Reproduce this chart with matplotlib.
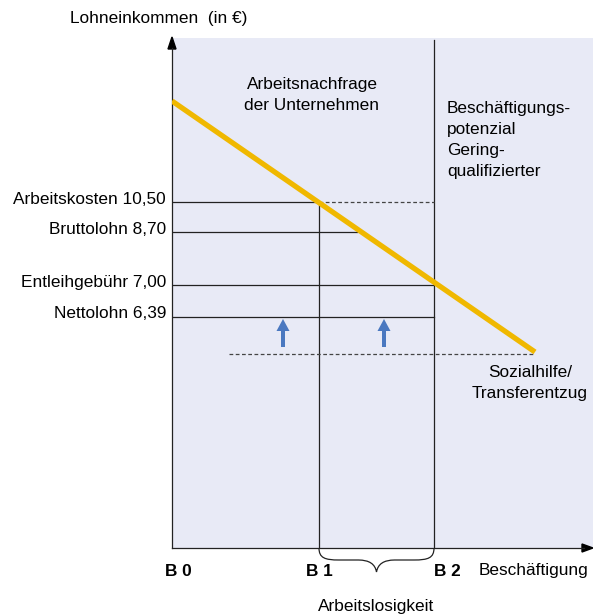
import matplotlib
matplotlib.use("Agg")
import matplotlib.pyplot as plt
from matplotlib.path import Path
from matplotlib.patches import PathPatch, FancyArrow, Polygon

plt.rcParams['font.family'] = ['Liberation Sans', 'DejaVu Sans']

# ---- data (diagram units: origin at B0 on the x axis) ----
b_labels = ["B 0", "B 1", "B 2"]
b_pos = [0, 147, 262]
wage_labels = ["Arbeitskosten 10,50", "Bruttolohn 8,70", "Entleihgebühr 7,00", "Nettolohn 6,39"]
wage_levels = [346, 316, 263, 231]
demand_x = [0, 363]
demand_y = [447, 196]
transfer_level = 194
transfer_start = 57
arrow_x = [111, 212]
arrow_from = 201
arrow_to = 229

W, H = 593, 616
FS = 12.4
fig = plt.figure(figsize=(W / 100, H / 100), dpi=100)
x0, y0 = 172, 68
ax = fig.add_axes([x0 / W, y0 / H, (W - x0) / W, 510 / H])
ax.set_xlim(0, W - x0)
ax.set_ylim(0, 510)
ax.set_facecolor('#e8eaf6')
for s in ax.spines.values():
    s.set_visible(False)
ax.set_xticks([])
ax.set_yticks([])

lc = '#222222'
lw = 0.9

def demand_at(y):
    return demand_x[0] + (demand_y[0] - y) * (demand_x[1] - demand_x[0]) / (demand_y[0] - demand_y[1])

# axes with arrows
ax.plot([0, 0], [0, 500], color=lc, lw=lw, clip_on=False)
ax.plot([0, 412], [0, 0], color=lc, lw=lw, clip_on=False)
ax.add_patch(Polygon([[-4, 499], [4, 499], [0, 511]], closed=True, color='black', clip_on=False))
ax.add_patch(Polygon([[410, -4], [410, 4], [421, 0]], closed=True, color='black', clip_on=False))

# verticals
ax.plot([b_pos[1], b_pos[1]], [0, wage_levels[0]], color=lc, lw=lw)
ax.plot([b_pos[2], b_pos[2]], [0, 508], color=lc, lw=lw)

# wage lines
ax.plot([0, b_pos[1]], [wage_levels[0]] * 2, color=lc, lw=lw)
ax.plot([b_pos[1], b_pos[2]], [wage_levels[0]] * 2, color='#444444', lw=0.9, ls=(0, (3, 2)))
ax.plot([0, demand_at(wage_levels[1]) - 4], [wage_levels[1]] * 2, color=lc, lw=lw)
ax.plot([0, b_pos[2]], [wage_levels[2]] * 2, color=lc, lw=lw)
ax.plot([0, b_pos[2]], [wage_levels[3]] * 2, color=lc, lw=lw)

# transfer dashed line
ax.plot([transfer_start, demand_x[1]], [transfer_level] * 2, color='#444444', lw=0.9, ls=(0, (3, 2)))

# demand line
ax.plot(demand_x, demand_y, color='#f0b800', lw=3.8, solid_capstyle='butt', zorder=5)

# blue arrows
for xa in arrow_x:
    ax.add_patch(FancyArrow(xa, arrow_from, 0, arrow_to - arrow_from, width=4, head_width=13,
                            head_length=12, length_includes_head=True, color='#4a78c0', lw=0))

# wage labels
for lab, lv in zip(wage_labels, wage_levels):
    ax.text(-6, lv + 3, lab, ha='right', va='center', fontsize=FS, clip_on=False)

# B labels
b_offsets = [6, 0, 13]
for lab, bp, off in zip(b_labels, b_pos, b_offsets):
    ax.text(bp + off, -23, lab, ha='center', va='center', fontsize=FS,
            fontweight='bold', clip_on=False)
ax.text(307, -23, "Beschäftigung", ha='left', va='center', fontsize=FS, clip_on=False)

# brace
bl, br = b_pos[1], b_pos[2]
mid = (bl + br) / 2
verts = [(bl, 0), (bl, -10), (bl + 6, -12), (bl + 20, -12),
         (mid - 18, -12), (mid - 2, -12), (mid, -24),
         (mid + 2, -12), (mid + 18, -12), (br - 20, -12),
         (br - 6, -12), (br, -10), (br, 0)]
codes = [Path.MOVETO, Path.CURVE4, Path.CURVE4, Path.CURVE4,
         Path.LINETO, Path.CURVE3, Path.CURVE3,
         Path.CURVE3, Path.CURVE3, Path.LINETO,
         Path.CURVE4, Path.CURVE4, Path.CURVE4]
ax.add_patch(PathPatch(Path(verts, codes), fill=False, color=lc, lw=lw, clip_on=False))
ax.text(mid, -59, "Arbeitslosigkeit", ha='center', va='center', fontsize=FS, clip_on=False)

# annotations
ax.text(-13, 530, "Lohneinkommen  (in €)", ha='center', va='center', fontsize=FS, clip_on=False)
ax.text(140, 453, "Arbeitsnachfrage\nder Unternehmen", ha='center', va='center', fontsize=FS,
        linespacing=1.45)
ax.text(275, 408, "Beschäftigungs-\npotenzial\nGering-\nqualifizierter", ha='left', va='center',
        fontsize=FS, linespacing=1.5)
ax.text(358, 165, "Sozialhilfe/\nTransferentzug", ha='center', va='center', fontsize=FS,
        linespacing=1.45)

fig.savefig("out.png", dpi=100)
